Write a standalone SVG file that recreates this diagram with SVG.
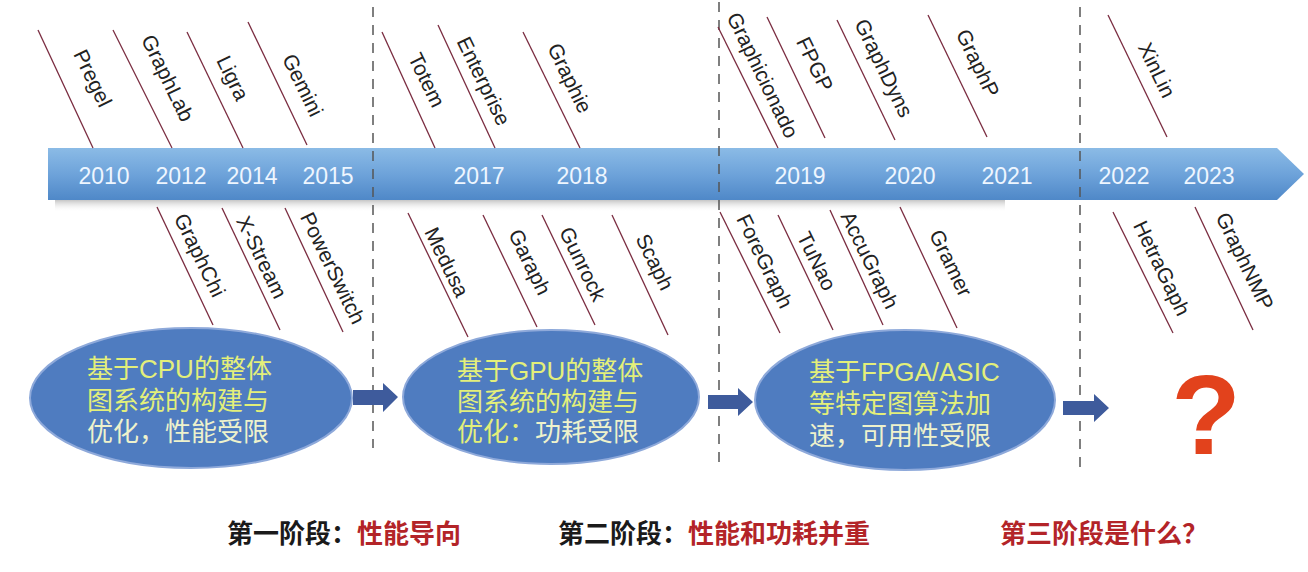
<svg xmlns="http://www.w3.org/2000/svg" width="1308" height="572" viewBox="0 0 1308 572">
<defs>
<linearGradient id="band" x1="0" y1="0" x2="0" y2="1">
<stop offset="0" stop-color="#8bbbe6"/>
<stop offset="0.5" stop-color="#6ea3da"/>
<stop offset="1" stop-color="#4f88c8"/>
</linearGradient>
<linearGradient id="shadow" x1="0" y1="0" x2="0" y2="1">
<stop offset="0" stop-color="#a8a8a8" stop-opacity="0.9"/>
<stop offset="1" stop-color="#ffffff" stop-opacity="0"/>
</linearGradient>
</defs>
<style>
.lbl{font-family:"Liberation Sans",Arial,sans-serif;font-size:21px;fill:#222;text-anchor:middle;dominant-baseline:central;}
.ln{stroke:#7a2c40;stroke-width:1.3;fill:none;}
.yr{font-family:"Liberation Sans",Arial,sans-serif;font-size:23px;fill:#eef6ff;text-anchor:middle;}
.dash{stroke:#555;stroke-width:1.5;stroke-dasharray:10 8;fill:none;}
.ell{fill:#4f7cc0;stroke:#8ea9da;stroke-width:2;}
.et{font-family:"Liberation Sans","Noto Sans CJK SC",sans-serif;font-size:26px;fill:#e3ef7a;}
.pale{fill:#eef2cc;}
.yel{fill:#e3ef7a;}
.arr{fill:#3e5b9c;}
.bt{font-family:"Noto Sans CJK SC",sans-serif;font-size:26px;font-weight:bold;fill:#1a1a1a;}
.red{fill:#b32428;}
.q{font-family:"Liberation Sans",Arial,sans-serif;font-size:114px;font-weight:bold;fill:#e2421c;text-anchor:middle;}
</style>

<g id="timeline">
<rect x="55" y="198" width="950" height="14" fill="url(#shadow)"/>
<path d="M48,148 H1277 L1304,174 L1277,200 H48 Z" fill="url(#band)"/>
<text class="yr" x="104" y="184">2010</text>
<text class="yr" x="181" y="184">2012</text>
<text class="yr" x="252" y="184">2014</text>
<text class="yr" x="328" y="184">2015</text>
<text class="yr" x="479" y="184">2017</text>
<text class="yr" x="582" y="184">2018</text>
<text class="yr" x="800" y="184">2019</text>
<text class="yr" x="910" y="184">2020</text>
<text class="yr" x="1007" y="184">2021</text>
<text class="yr" x="1124" y="184">2022</text>
<text class="yr" x="1209" y="184">2023</text>
</g>

<g id="dividers">
<line class="dash" x1="373" y1="7" x2="373" y2="448"/>
<line class="dash" x1="719" y1="2" x2="719" y2="470"/>
<line class="dash" x1="1080" y1="7" x2="1080" y2="468"/>
</g>

<g id="pregel"><line class="ln" x1="38" y1="30" x2="93" y2="148"/><text class="lbl" transform="translate(93 78) rotate(64)">Pregel</text></g>
<g id="graphlab"><line class="ln" x1="113" y1="30" x2="172" y2="148"/><text class="lbl" transform="translate(168 78) rotate(64)">GraphLab</text></g>
<g id="ligra"><line class="ln" x1="187" y1="32" x2="243" y2="148"/><text class="lbl" transform="translate(233 78) rotate(64)">Ligra</text></g>
<g id="gemini"><line class="ln" x1="248" y1="22" x2="307" y2="145"/><text class="lbl" transform="translate(303 85) rotate(64)">Gemini</text></g>
<g id="totem"><line class="ln" x1="382" y1="32" x2="435" y2="148"/><text class="lbl" transform="translate(427 80) rotate(64)">Totem</text></g>
<g id="enterprise"><line class="ln" x1="438" y1="25" x2="495" y2="148"/><text class="lbl" transform="translate(484 81) rotate(64)">Enterprise</text></g>
<g id="graphie"><line class="ln" x1="523" y1="32" x2="580" y2="148"/><text class="lbl" transform="translate(570 78) rotate(64)">Graphie</text></g>
<g id="graphicionado"><line class="ln" x1="718" y1="27" x2="778" y2="148"/><text class="lbl" transform="translate(763 75) rotate(64)">Graphicionado</text></g>
<g id="fpgp"><line class="ln" x1="767" y1="17" x2="825" y2="138"/><text class="lbl" transform="translate(815 64) rotate(64)">FPGP</text></g>
<g id="graphdyns"><line class="ln" x1="837" y1="20" x2="895" y2="140"/><text class="lbl" transform="translate(884 68) rotate(64)">GraphDyns</text></g>
<g id="graphp"><line class="ln" x1="928" y1="15" x2="987" y2="137"/><text class="lbl" transform="translate(978 63) rotate(64)">GraphP</text></g>
<g id="xinlin"><line class="ln" x1="1108" y1="15" x2="1167" y2="137"/><text class="lbl" transform="translate(1157 70) rotate(64)">XinLin</text></g>

<g id="graphchi"><line class="ln" x1="157" y1="207" x2="213" y2="325"/><text class="lbl" transform="translate(200 255) rotate(64)">GraphChi</text></g>
<g id="xstream"><line class="ln" x1="222" y1="208" x2="280" y2="330"/><text class="lbl" transform="translate(262 257) rotate(64)">X-Stream</text></g>
<g id="powerswitch"><line class="ln" x1="285" y1="208" x2="343" y2="332"/><text class="lbl" transform="translate(333 268) rotate(64)">PowerSwitch</text></g>
<g id="medusa"><line class="ln" x1="408" y1="213" x2="468" y2="337"/><text class="lbl" transform="translate(447 262) rotate(64)">Medusa</text></g>
<g id="garaph"><line class="ln" x1="483" y1="215" x2="537" y2="327"/><text class="lbl" transform="translate(530 262) rotate(64)">Garaph</text></g>
<g id="gunrock"><line class="ln" x1="542" y1="215" x2="595" y2="325"/><text class="lbl" transform="translate(583 264) rotate(64)">Gunrock</text></g>
<g id="scaph"><line class="ln" x1="612" y1="215" x2="668" y2="335"/><text class="lbl" transform="translate(655 262) rotate(64)">Scaph</text></g>
<g id="foregraph"><line class="ln" x1="720" y1="212" x2="780" y2="333"/><text class="lbl" transform="translate(765 261) rotate(64)">ForeGraph</text></g>
<g id="tunao"><line class="ln" x1="778" y1="215" x2="833" y2="330"/><text class="lbl" transform="translate(817 261) rotate(64)">TuNao</text></g>
<g id="accugraph"><line class="ln" x1="830" y1="210" x2="883" y2="325"/><text class="lbl" transform="translate(870 260) rotate(64)">AccuGraph</text></g>
<g id="gramer"><line class="ln" x1="900" y1="207" x2="957" y2="328"/><text class="lbl" transform="translate(951 263) rotate(64)">Gramer</text></g>
<g id="hetragaph"><line class="ln" x1="1113" y1="212" x2="1173" y2="333"/><text class="lbl" transform="translate(1162 268) rotate(64)">HetraGaph</text></g>
<g id="graphnmp"><line class="ln" x1="1195" y1="207" x2="1253" y2="330"/><text class="lbl" transform="translate(1245 261) rotate(64)">GraphNMP</text></g>

<g id="stage1">
<ellipse class="ell" cx="191" cy="398" rx="161" ry="70"/>
<text class="et"><tspan x="87" y="378">基于CPU的整体</tspan><tspan x="87" y="410">图系统的构建与</tspan><tspan class="pale" x="87" y="441">优化，性能受限</tspan></text>
</g>
<g id="stage2">
<ellipse class="ell" cx="551" cy="397" rx="148" ry="67"/>
<text class="et"><tspan x="457" y="380">基于GPU的整体</tspan><tspan x="457" y="411">图系统的构建与</tspan><tspan class="pale" x="457" y="441"><tspan class="yel">优化：</tspan>功耗受限</tspan></text>
</g>
<g id="stage3">
<ellipse class="ell" cx="905" cy="400" rx="150" ry="70"/>
<text class="et"><tspan x="809" y="381">基于FPGA/ASIC</tspan><tspan x="809" y="413">等特定图算法加</tspan><tspan class="pale" x="809" y="445">速，可用性受限</tspan></text>
</g>
<g id="stage4">
<text class="q" x="1206" y="454">?</text>
</g>

<g id="connectors">
<path class="arr" d="M353,390 H383 V383 L398,397 L383,412 V405 H353 Z"/>
<path class="arr" d="M708,395 H738 V388 L753,402 L738,416 V409 H708 Z"/>
<path class="arr" d="M1063,401 H1094 V394 L1109,408 L1094,422 V415 H1063 Z"/>
</g>

<g id="phases">
<text class="bt" x="227" y="543">第一阶段：<tspan class="red">性能导向</tspan></text>
<text class="bt" x="558" y="543">第二阶段：<tspan class="red">性能和功耗并重</tspan></text>
<text class="bt red" x="1000" y="543">第三阶段是什么？</text>
</g>
</svg>
